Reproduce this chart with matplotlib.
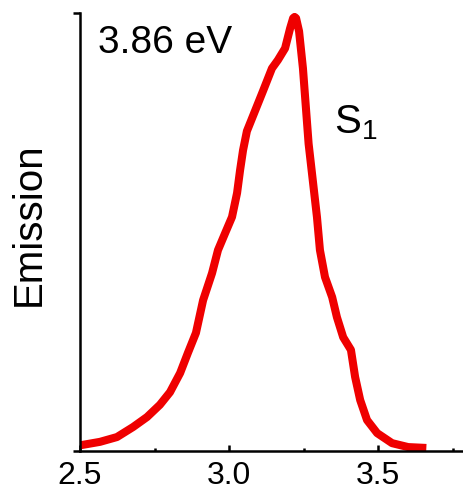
import numpy as np
import matplotlib.pyplot as plt

plt.rcParams['font.family'] = ['Liberation Sans', 'DejaVu Sans']
plt.rcParams['mathtext.default'] = 'regular'

# emission spectrum (energy in eV, normalised intensity)
energy = [2.500, 2.567, 2.624, 2.678, 2.725, 2.768, 2.802, 2.836, 2.862,
          2.889, 2.913, 2.943, 2.963, 2.987, 3.010, 3.027, 3.037, 3.047,
          3.060, 3.087, 3.114, 3.144, 3.164, 3.188, 3.205, 3.215, 3.220,
          3.225, 3.235, 3.248, 3.258, 3.267, 3.282, 3.295, 3.305,
          3.322, 3.346, 3.362, 3.383, 3.409, 3.423, 3.440, 3.463, 3.497,
          3.547, 3.601, 3.662]
emission = [0.013, 0.021, 0.032, 0.055, 0.078, 0.106, 0.135, 0.179, 0.225,
            0.271, 0.346, 0.408, 0.461, 0.500, 0.537, 0.592, 0.644, 0.690,
            0.734, 0.780, 0.826, 0.878, 0.897, 0.924, 0.970, 0.993, 0.996,
            0.993, 0.963, 0.878, 0.787, 0.705, 0.615, 0.537, 0.461,
            0.399, 0.353, 0.307, 0.261, 0.232, 0.170, 0.117, 0.071, 0.041,
            0.018, 0.009, 0.007]
xticks = [2.5, 3.0, 3.5]
xminor = [2.75, 3.25, 3.75]
exc_label = '3.86 eV'
state_label = r'$\mathregular{S_1}$'

fig = plt.figure(figsize=(4.64, 4.96), dpi=100)
ax = fig.add_axes([80/464, 1 - 451/496, 383/464, 438/496])

ax.plot(energy, emission, color='#ef0000', lw=5.8,
        solid_joinstyle='round', solid_capstyle='butt')

ax.set_xlim(2.5, 3.785)
ax.set_ylim(0, 1.005)
ax.set_xticks(xticks)
ax.set_xticklabels(['%.1f' % t for t in xticks], fontsize=23)
ax.set_xticks(xminor, minor=True)
ax.tick_params(axis='x', which='major', direction='in', length=4, width=1.8, pad=7)
ax.tick_params(axis='x', which='minor', direction='in', length=2.5, width=1.8)
ax.set_yticks([0, 1.005])
ax.tick_params(axis='y', direction='out', length=5, width=1.8, labelleft=False)

for side in ['top', 'right']:
    ax.spines[side].set_visible(False)
for side in ['left', 'bottom']:
    ax.spines[side].set_linewidth(1.8)

ax.text(0.047, 0.909, exc_label, transform=ax.transAxes, fontsize=28,
        ha='left', va='baseline')
ax.text(0.662, 0.726, state_label, transform=ax.transAxes, fontsize=29,
        ha='left', va='baseline')
fig.text(29/464, 1 - 224/496, 'Emission', rotation=90, fontsize=29,
         ha='center', va='center')

fig.savefig('out.png', dpi=100)
